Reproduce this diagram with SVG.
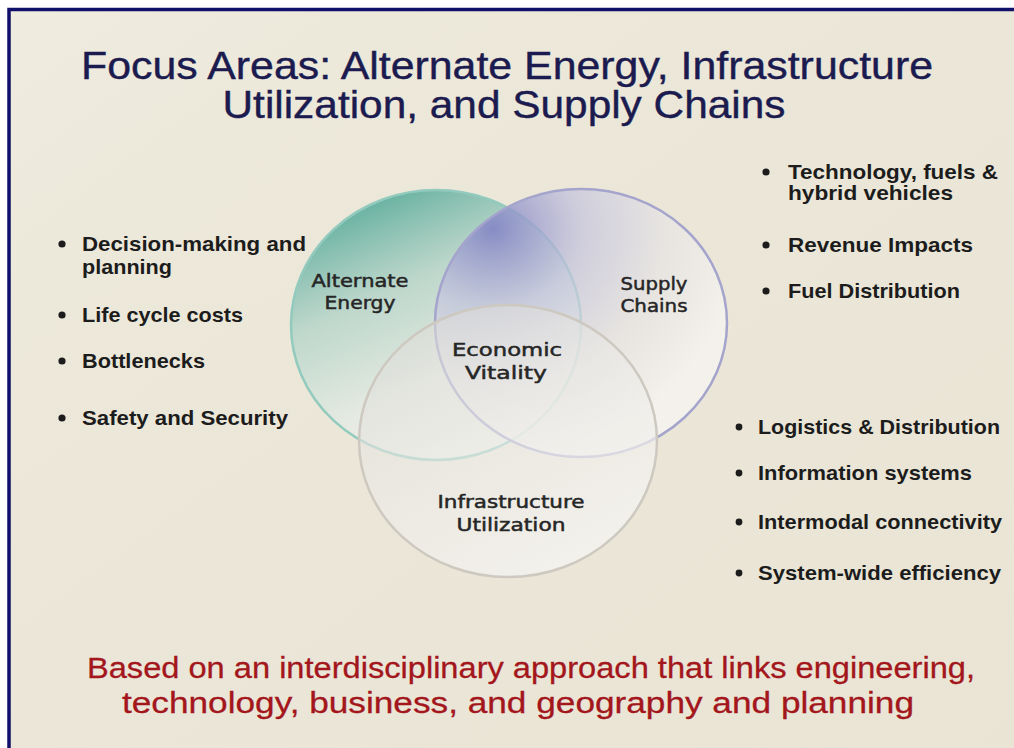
<svg xmlns="http://www.w3.org/2000/svg" width="1014" height="748" viewBox="0 0 1014 748">
<style>
.title{font-family:"Liberation Sans",Arial,sans-serif;font-size:38px;fill:#1b1b4f;stroke:#1b1b4f;stroke-width:0.4;text-anchor:middle}
.foot{font-family:"Liberation Sans",Arial,sans-serif;font-size:30px;fill:#a3161c;stroke:#a3161c;stroke-width:0.3;text-anchor:middle}
.bul{font-family:"Liberation Sans",Arial,sans-serif;font-size:21px;font-weight:bold;fill:#1c1c1c}
.venn{font-family:"DejaVu Sans",Verdana,sans-serif;font-size:18px;fill:#262626;stroke:#262626;stroke-width:0.5;text-anchor:middle}
.dot{fill:#1c1c1c}
</style>
<defs>
<linearGradient id="bg" x1="0" y1="0" x2="1" y2="1">
<stop offset="0" stop-color="#efece0"/>
<stop offset="0.2" stop-color="#ece8da"/>
<stop offset="1" stop-color="#e9e4d4"/>
</linearGradient>
<linearGradient id="gAE" x1="0.15" y1="0.1" x2="0.55" y2="0.95">
<stop offset="0" stop-color="#5aac9b" stop-opacity="0.9"/>
<stop offset="0.35" stop-color="#b2d3c8" stop-opacity="0.8"/>
<stop offset="0.75" stop-color="#e4ebe4" stop-opacity="0.8"/>
<stop offset="1" stop-color="#eef0ea" stop-opacity="0.8"/>
</linearGradient>
<radialGradient id="gSC" cx="0.2" cy="0.15" r="0.85">
<stop offset="0" stop-color="#8080c4" stop-opacity="0.85"/>
<stop offset="0.35" stop-color="#c2c2dd" stop-opacity="0.7"/>
<stop offset="0.7" stop-color="#e6e4e6" stop-opacity="0.65"/>
<stop offset="1" stop-color="#f6f4f0" stop-opacity="0.8"/>
</radialGradient>
<linearGradient id="gIU" x1="0.2" y1="0" x2="0.8" y2="1">
<stop offset="0" stop-color="#dcdad6" stop-opacity="0.55"/>
<stop offset="0.5" stop-color="#ecebe8" stop-opacity="0.6"/>
<stop offset="1" stop-color="#f6f5f1" stop-opacity="0.85"/>
</linearGradient>
</defs>
<rect x="0" y="0" width="1014" height="748" fill="#ffffff"/>
<rect x="8" y="8" width="1006" height="740" fill="url(#bg)"/>
<path d="M9 748 V9.5 H1014" fill="none" stroke="#10106a" stroke-width="3.5"/>
<g id="title">
<text class="title" x="507" y="79" textLength="852" lengthAdjust="spacingAndGlyphs">Focus Areas: Alternate Energy, Infrastructure</text>
<text class="title" x="504" y="118" textLength="563" lengthAdjust="spacingAndGlyphs">Utilization, and Supply Chains</text>
</g>
<g id="venn">
<g id="alternate-energy">
<ellipse cx="436" cy="325" rx="145" ry="135" fill="url(#gAE)" stroke="#93cabe" stroke-width="2.5"/>
</g>
<g id="supply-chains">
<ellipse cx="581" cy="323" rx="146" ry="134" fill="url(#gSC)" stroke="#a4a4cc" stroke-width="2.5"/>
</g>
<g id="infrastructure-utilization">
<ellipse cx="508" cy="441" rx="149" ry="136" fill="url(#gIU)" stroke="#cdc9c0" stroke-width="2.5"/>
</g>
<g id="labels">
<text class="venn" x="360" y="287" textLength="97" lengthAdjust="spacingAndGlyphs">Alternate</text>
<text class="venn" x="360" y="309" textLength="71" lengthAdjust="spacingAndGlyphs">Energy</text>
<text class="venn" x="654" y="290" textLength="67" lengthAdjust="spacingAndGlyphs">Supply</text>
<text class="venn" x="654" y="312" textLength="67" lengthAdjust="spacingAndGlyphs">Chains</text>
<text class="venn" x="507" y="356" textLength="110" lengthAdjust="spacingAndGlyphs">Economic</text>
<text class="venn" x="506" y="379" textLength="82" lengthAdjust="spacingAndGlyphs">Vitality</text>
<text class="venn" x="511" y="508" textLength="147" lengthAdjust="spacingAndGlyphs">Infrastructure</text>
<text class="venn" x="511" y="531" textLength="109" lengthAdjust="spacingAndGlyphs">Utilization</text>
</g>
</g>
<g id="left-list">
<circle class="dot" cx="62" cy="244" r="3.6"/>
<text class="bul" x="82" y="251" textLength="224" lengthAdjust="spacingAndGlyphs">Decision-making and</text>
<text class="bul" x="82" y="274" textLength="90" lengthAdjust="spacingAndGlyphs">planning</text>
<circle class="dot" cx="62" cy="315" r="3.6"/>
<text class="bul" x="82" y="322" textLength="161" lengthAdjust="spacingAndGlyphs">Life cycle costs</text>
<circle class="dot" cx="62" cy="361" r="3.6"/>
<text class="bul" x="82" y="368" textLength="123" lengthAdjust="spacingAndGlyphs">Bottlenecks</text>
<circle class="dot" cx="62" cy="418" r="3.6"/>
<text class="bul" x="82" y="425" textLength="206" lengthAdjust="spacingAndGlyphs">Safety and Security</text>
</g>
<g id="right-top-list">
<circle class="dot" cx="766" cy="172" r="3.6"/>
<text class="bul" x="788" y="179" textLength="210" lengthAdjust="spacingAndGlyphs">Technology, fuels &amp;</text>
<text class="bul" x="788" y="200" textLength="165" lengthAdjust="spacingAndGlyphs">hybrid vehicles</text>
<circle class="dot" cx="766" cy="245" r="3.6"/>
<text class="bul" x="788" y="252" textLength="185" lengthAdjust="spacingAndGlyphs">Revenue Impacts</text>
<circle class="dot" cx="766" cy="291" r="3.6"/>
<text class="bul" x="788" y="298" textLength="172" lengthAdjust="spacingAndGlyphs">Fuel Distribution</text>
</g>
<g id="right-bottom-list">
<circle class="dot" cx="739" cy="427" r="3.4"/>
<text class="bul" x="758" y="434" textLength="242" lengthAdjust="spacingAndGlyphs">Logistics &amp; Distribution</text>
<circle class="dot" cx="739" cy="473" r="3.4"/>
<text class="bul" x="758" y="480" textLength="214" lengthAdjust="spacingAndGlyphs">Information systems</text>
<circle class="dot" cx="739" cy="522" r="3.4"/>
<text class="bul" x="758" y="529" textLength="244" lengthAdjust="spacingAndGlyphs">Intermodal connectivity</text>
<circle class="dot" cx="739" cy="573" r="3.4"/>
<text class="bul" x="758" y="580" textLength="243" lengthAdjust="spacingAndGlyphs">System-wide efficiency</text>
</g>
<g id="footer">
<text class="foot" x="531" y="678" textLength="888" lengthAdjust="spacingAndGlyphs">Based on an interdisciplinary approach that links engineering,</text>
<text class="foot" x="518" y="713" textLength="792" lengthAdjust="spacingAndGlyphs">technology, business, and geography and planning</text>
</g>
</svg>
